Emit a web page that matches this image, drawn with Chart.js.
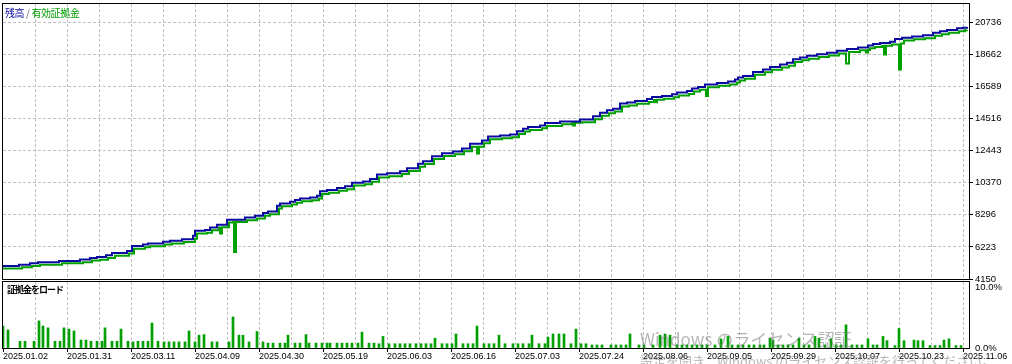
<!DOCTYPE html>
<html>
<head>
<meta charset="utf-8">
<script src="https://cdn.jsdelivr.net/npm/chart.js@4/dist/chart.umd.min.js"></script>
<style>
  html, body { margin: 0; padding: 0; background: #fff; }
  #wrap { position: relative; width: 1012px; height: 364px; overflow: hidden; }
  canvas { position: absolute; left: 0; }
  #main { top: 0; }
  #lower { top: 281px; }
  .txt { position: absolute; white-space: nowrap; font-family: 'Noto Sans CJK JP', sans-serif; }
  #legend { left: 5px; top: 5px; font-size: 10px; letter-spacing: -0.4px; }
  #loadTitle { left: 7px; top: 283px; font-size: 9px; letter-spacing: -1px; color: #000; font-weight: bold; }
  #wm1 { left: 640px; top: 326px; font-size: 17px; color: rgba(120,120,120,0.55); }
  #wm2 { left: 640px; top: 351px; font-size: 13px; color: rgba(120,120,120,0.55); }
</style>
</head>
<body>
<div id="wrap">
  <canvas id="main" width="1012" height="300"></canvas>
  <canvas id="lower" width="1012" height="83"></canvas>
  <div id="legend" class="txt"><span style="color:#0a0aa0">残高</span><span style="color:#666"> / </span><span style="color:#00a000">有効証拠金</span></div>
  <div id="loadTitle" class="txt">証拠金をロード</div>
  <div id="wm1" class="txt">Windows のライセンス認証</div>
  <div id="wm2" class="txt">設定を開き、Windows のライセンス認証を行ってください。</div>
</div>
<script>
// 残高 (balance)
const balanceX = [3,19,30,38,59,80,90,97,106,112,127,132,143,148,163,170,182,193,195,205,210,217,227,245,255,263,268,277,280,290,295,300,310,317,320,327,337,345,352,363,370,377,387,400,407,418,423,432,442,453,462,470,482,488,500,510,517,523,528,540,545,560,580,593,600,607,613,620,627,635,647,652,662,672,677,687,692,698,705,717,728,735,738,743,753,763,770,780,787,793,800,807,817,827,837,847,858,868,873,880,890,895,902,912,923,933,940,947,957,963,967];
const balance = [4992,5077,5167,5232,5316,5401,5511,5576,5686,5835,5965,6288,6373,6438,6548,6612,6722,6936,7260,7306,7474,7649,7973,8122,8232,8407,8511,8880,9030,9140,9250,9353,9418,9528,9807,9897,10027,10131,10371,10436,10610,10889,10974,11103,11298,11583,11751,12076,12270,12380,12574,12878,13092,13352,13417,13482,13695,13850,13955,14064,14214,14324,14454,14648,14876,15038,15147,15471,15536,15639,15769,15899,15963,16073,16183,16287,16443,16546,16702,16806,16896,17026,17156,17261,17519,17675,17843,17998,18102,18341,18451,18556,18665,18750,18880,18990,19100,19229,19313,19378,19463,19637,19722,19812,19878,20046,20136,20220,20330,20374,20415];

// 有効証拠金 (equity)
const equityX = [3,22,32,40,62,83,92,100,108,115,129,134,145,150,165,172,184,195,197,207,212,219,220,222,229,233,234,236,247,257,265,270,279,282,292,297,302,312,319,322,329,339,347,354,365,372,379,389,402,409,420,425,434,444,455,464,472,477,479,484,490,502,512,519,525,530,542,547,562,572,573,575,582,595,602,609,615,622,629,637,649,654,655,657,664,674,679,689,694,700,706,708,719,730,737,740,745,755,765,772,782,789,795,802,809,819,829,839,846,849,860,866,868,870,875,882,884,886,892,899,901,904,914,925,935,942,949,959,965,967];
const equity = [4830,4915,4990,5070,5160,5230,5340,5400,5510,5650,5800,6100,6200,6260,6370,6440,6540,6750,7090,7130,7300,7470,7086,7490,7800,7830,5900,7830,7940,8050,8230,8330,8700,8850,8960,9070,9170,9240,9350,9630,9720,9840,9950,10190,10260,10430,10710,10790,10920,11120,11400,11570,11890,12090,12200,12390,12690,12250,12690,12910,13170,13240,13300,13510,13670,13770,13880,14030,14140,14210,14064,14230,14270,14460,14690,14850,14960,15280,15350,15460,15580,15710,15555,15720,15780,15890,16000,16100,16260,16360,15963,16520,16620,16710,16840,16970,17070,17330,17490,17660,17810,17920,18160,18270,18370,18480,18570,18700,18063,18800,18920,18776,18930,19040,19130,19200,18646,19200,19280,17675,19360,19540,19630,19690,19860,19950,20040,20150,20200,20230];

// 証拠金をロード (%)
const loadX = [3,8,20,25,34,39,43,48,55,60,64,69,74,81,86,91,97,102,105,112,117,121,128,133,138,143,148,152,158,164,169,174,179,185,189,195,199,204,212,217,229,233,239,243,249,257,263,268,273,280,285,288,295,300,306,309,316,322,327,330,337,342,347,352,358,362,369,374,379,383,389,395,400,405,410,416,421,426,431,435,442,447,452,456,463,468,473,477,484,489,494,499,505,513,518,523,529,532,539,545,548,553,559,564,571,576,581,586,592,597,602,611,616,621,626,630,639,644,653,660,665,670,677,682,687,692,697,702,707,715,721,728,732,738,743,749,754,760,764,770,773,778,783,788,793,799,804,809,815,819,825,831,836,841,846,852,857,862,868,873,877,883,887,895,899,904,914,918,923,930,935,940,944,949,956,961];
const load = [3.6,2.95,1.1,1.1,1.1,4.45,3.6,3.3,1.1,1.1,3.3,3.1,2.8,1.3,1.3,1.1,1.1,1.1,3.3,1.1,1.1,3.1,1.1,1.0,1.1,1.1,1.1,4.1,1.1,1.0,1.0,1.0,1.0,1.0,2.8,1.0,2.1,2.2,1.0,1.0,1.0,5.1,2.1,2.1,1.0,2.7,1.0,0.8,0.8,0.8,0.8,2.1,0.8,0.8,2.2,0.8,0.8,0.8,0.8,0.8,0.8,0.8,0.8,0.8,0.8,2.6,0.8,0.8,0.7,1.9,0.7,0.7,0.7,0.7,0.7,0.7,0.7,0.7,0.7,1.6,0.7,0.7,0.7,2.3,0.7,0.7,0.7,3.6,0.7,0.7,0.7,2.1,0.7,0.7,0.7,0.7,0.7,2.1,0.7,0.7,1.8,2.3,2.3,2.3,0.7,3.1,0.7,0.7,0.5,0.5,0.5,0.5,0.5,0.5,0.5,2.3,0.5,0.5,0.5,2.1,2.3,2.1,0.5,0.5,0.5,0.5,0.5,0.5,0.5,0.5,1.5,1.9,0.5,0.5,0.5,0.5,0.5,0.5,0.5,1.6,1.3,0.5,0.5,0.5,0.5,1.6,0.5,0.5,1.9,1.6,0.5,1.5,0.5,0.5,3.8,0.5,0.5,0.5,1.5,0.5,0.5,1.9,1.2,0.4,3.2,1.2,1.3,1.2,1.2,0.4,0.4,0.4,1.3,1.5,0.4,0.4];

const dateLabels = ['2025.01.02','2025.01.31','2025.03.11','2025.04.09','2025.04.30','2025.05.19','2025.06.03','2025.06.16','2025.07.03','2025.07.24','2025.08.06','2025.09.05','2025.09.29','2025.10.07','2025.10.23','2025.11.06'];
const yTicks = [4150,6223,8296,10370,12443,14516,16589,18662,20736];
const loadTicks = [0, 10];

const X_MIN = 3, X_MAX = 969, GRID_STEP = 32;
const gridTicks = [];
for (let v = X_MIN; v <= X_MAX - 6; v += GRID_STEP) gridTicks.push(v);

const yFont = { family: "'Liberation Sans', 'DejaVu Sans', sans-serif", size: 9.5 };
const xFont = { family: "'Liberation Sans', 'DejaVu Sans', sans-serif", size: 9 };
const gridColor = '#c0c0c0';
const dash = [3, 2];

const framePlugin = {
  id: 'frame',
  afterDraw(chart) {
    const { ctx, chartArea: a } = chart;
    ctx.save();
    ctx.strokeStyle = '#000';
    ctx.lineWidth = 1;
    ctx.strokeRect(a.left - 0.5, a.top - 0.5, a.right - a.left + 1, a.bottom - a.top + 1);
    ctx.restore();
  }
};

// 残高 / 有効証拠金
new Chart(document.getElementById('main'), {
  type: 'line',
  data: {
    datasets: [
      {
        label: '残高',
        data: balanceX.map((x, i) => ({ x, y: balance[i] })),
        borderColor: '#0a0aa0',
        borderWidth: 2,
        pointRadius: 0,
        stepped: true
      },
      {
        label: '有効証拠金',
        data: equityX.map((x, i) => ({ x, y: equity[i] })),
        borderColor: '#00a000',
        borderWidth: 2,
        pointRadius: 0,
        stepped: true
      }
    ]
  },
  options: {
    responsive: false,
    animation: false,
    events: [],
    layout: { padding: { left: 3, top: 4, right: 0, bottom: 21 } },
    plugins: { legend: { display: false }, tooltip: { enabled: false } },
    scales: {
      x: {
        type: 'linear', min: X_MIN, max: X_MAX,
        afterBuildTicks: s => { s.ticks = gridTicks.slice(1).map(v => ({ value: v })); },
        ticks: { display: false },
        grid: { color: gridColor, drawTicks: false },
        border: { display: false, dash: dash },
        afterFit: s => { s.height = 0; s.paddingLeft = 0; s.paddingRight = 0; }
      },
      y: {
        position: 'right', min: 4150, max: 21902,
        afterBuildTicks: s => { s.ticks = yTicks.map(v => ({ value: v })); },
        ticks: { color: '#000', font: yFont, padding: 2, callback: v => String(v) },
        grid: { color: gridColor, tickColor: '#000', tickLength: 4, tickBorderDash: [] },
        border: { display: false, dash: dash },
        afterFit: s => { s.width = 43; s.paddingTop = 0; s.paddingBottom = 0; }
      }
    }
  },
  plugins: [framePlugin]
});

// 証拠金をロード
new Chart(document.getElementById('lower'), {
  type: 'bar',
  data: {
    datasets: [{
      label: '証拠金をロード',
      data: loadX.map((x, i) => ({ x, y: load[i] })),
      backgroundColor: '#00a000',
      borderWidth: 0,
      barThickness: 2
    }]
  },
  options: {
    responsive: false,
    animation: false,
    events: [],
    layout: { padding: { left: 3, top: 1, right: 0, bottom: 0 } },
    plugins: { legend: { display: false }, tooltip: { enabled: false } },
    scales: {
      x: {
        type: 'linear', min: X_MIN, max: X_MAX, offset: false,
        afterBuildTicks: s => { s.ticks = gridTicks.map(v => ({ value: v })); },
        grid: {
          offset: false,
          color: c => (c.index === 0 ? 'rgba(0,0,0,0)' : gridColor),
          tickColor: c => (c.index % 2 === 0 ? '#000' : 'rgba(0,0,0,0)'),
          tickLength: 4,
          tickBorderDash: []
        },
        border: { display: false, dash: dash },
        ticks: {
          autoSkip: false, maxRotation: 0, align: 'start', padding: -1,
          color: '#000', font: xFont,
          callback: (v, i) => (i % 2 === 0 ? dateLabels[i / 2] : '')
        },
        afterFit: s => { s.height = 16; s.paddingLeft = 0; s.paddingRight = 0; }
      },
      y: {
        position: 'right', min: 0, max: 10.82,
        afterBuildTicks: s => { s.ticks = loadTicks.map(v => ({ value: v })); },
        ticks: { color: '#000', font: yFont, padding: 2, callback: v => v.toFixed(1) + '%' },
        grid: { drawOnChartArea: false, tickColor: 'rgba(0,0,0,0)', tickLength: 4 },
        border: { display: false },
        afterFit: s => { s.width = 43; s.paddingTop = 0; s.paddingBottom = 0; }
      }
    }
  },
  plugins: [framePlugin]
});
</script>
</body>
</html>
